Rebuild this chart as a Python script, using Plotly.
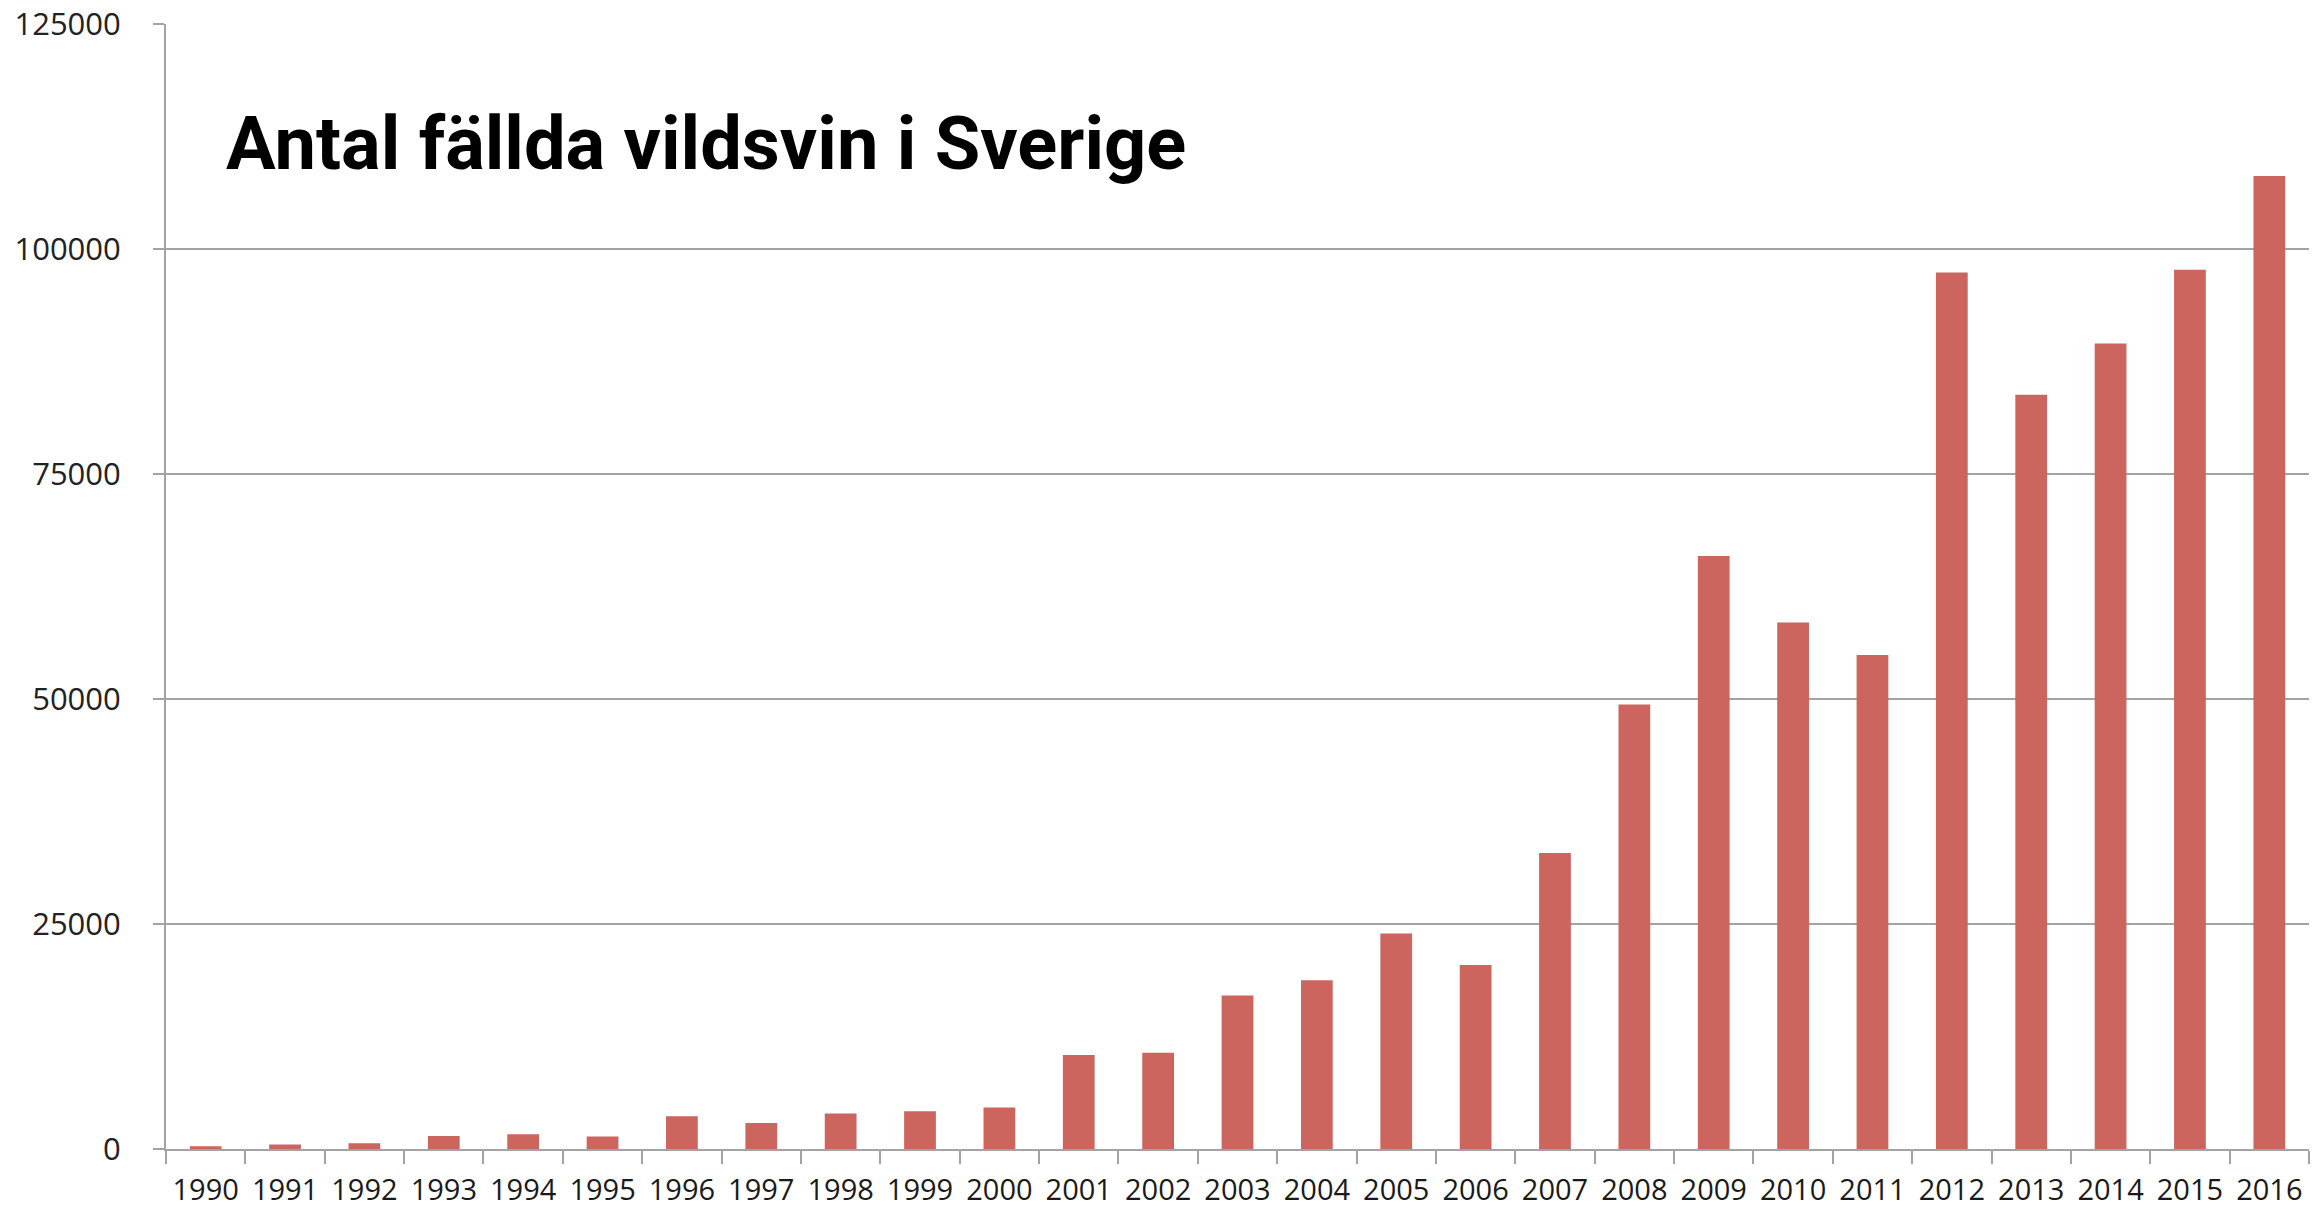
import plotly.graph_objects as go

years = [str(y) for y in range(1990, 2017)]
antal = [300, 500, 650, 1450, 1650, 1380, 3650, 2900, 3950, 4200, 4600,
         10450, 10700, 17050, 18750, 23950, 20450, 32900,
         49400, 65900, 58500, 54900, 97400, 83800, 89500, 97700, 108100]

y_ticks = [0, 25000, 50000, 75000, 100000, 125000]

title_text = "Antal fällda vildsvin i Sverige"
bar_color = "#CB655E"
grid_color = "#A3A3A3"

fig = go.Figure(
    go.Bar(x=years, y=antal, marker=dict(color=bar_color, line=dict(width=0)))
)

fig.update_layout(
    width=2315, height=1211,
    margin=dict(l=166, r=6, t=24, b=62, autoexpand=False),
    paper_bgcolor="white", plot_bgcolor="white",
    bargap=0.6,
    showlegend=False,
    title=dict(
        text="<b>" + title_text + "</b>",
        x=226 / 2315, xanchor="left", xref="container",
        y=1 - 143 / 1211, yanchor="middle", yref="container",
        font=dict(family="Roboto, Arial", size=74, color="#000000"),
    ),
)

fig.update_xaxes(
    type="category", automargin=False,
    showline=True, linecolor=grid_color, linewidth=2,
    ticks="outside", tickson="boundaries", ticklen=13, tickcolor=grid_color, tickwidth=2,
    tickangle=0,
    tickfont=dict(family="Open Sans, Arial", size=29, color="#1a1a1a"),
    showgrid=False,
    ticklabelstandoff=14,
)

fig.update_yaxes(
    range=[0, 125000], automargin=False,
    tickvals=y_ticks, ticktext=[str(v) for v in y_ticks],
    showline=True, linecolor=grid_color, linewidth=2,
    ticks="outside", ticklen=11, tickcolor=grid_color, tickwidth=2,
    showgrid=True, gridcolor=grid_color, gridwidth=2,
    zeroline=False,
    tickfont=dict(family="Open Sans, Arial", size=31, color="#222222"),
    ticklabelstandoff=26,
)

fig.write_html(
    "out.html",
    config={"displayModeBar": False},
    post_script="document.body.style.margin='0';document.body.style.overflow='hidden';",
)
